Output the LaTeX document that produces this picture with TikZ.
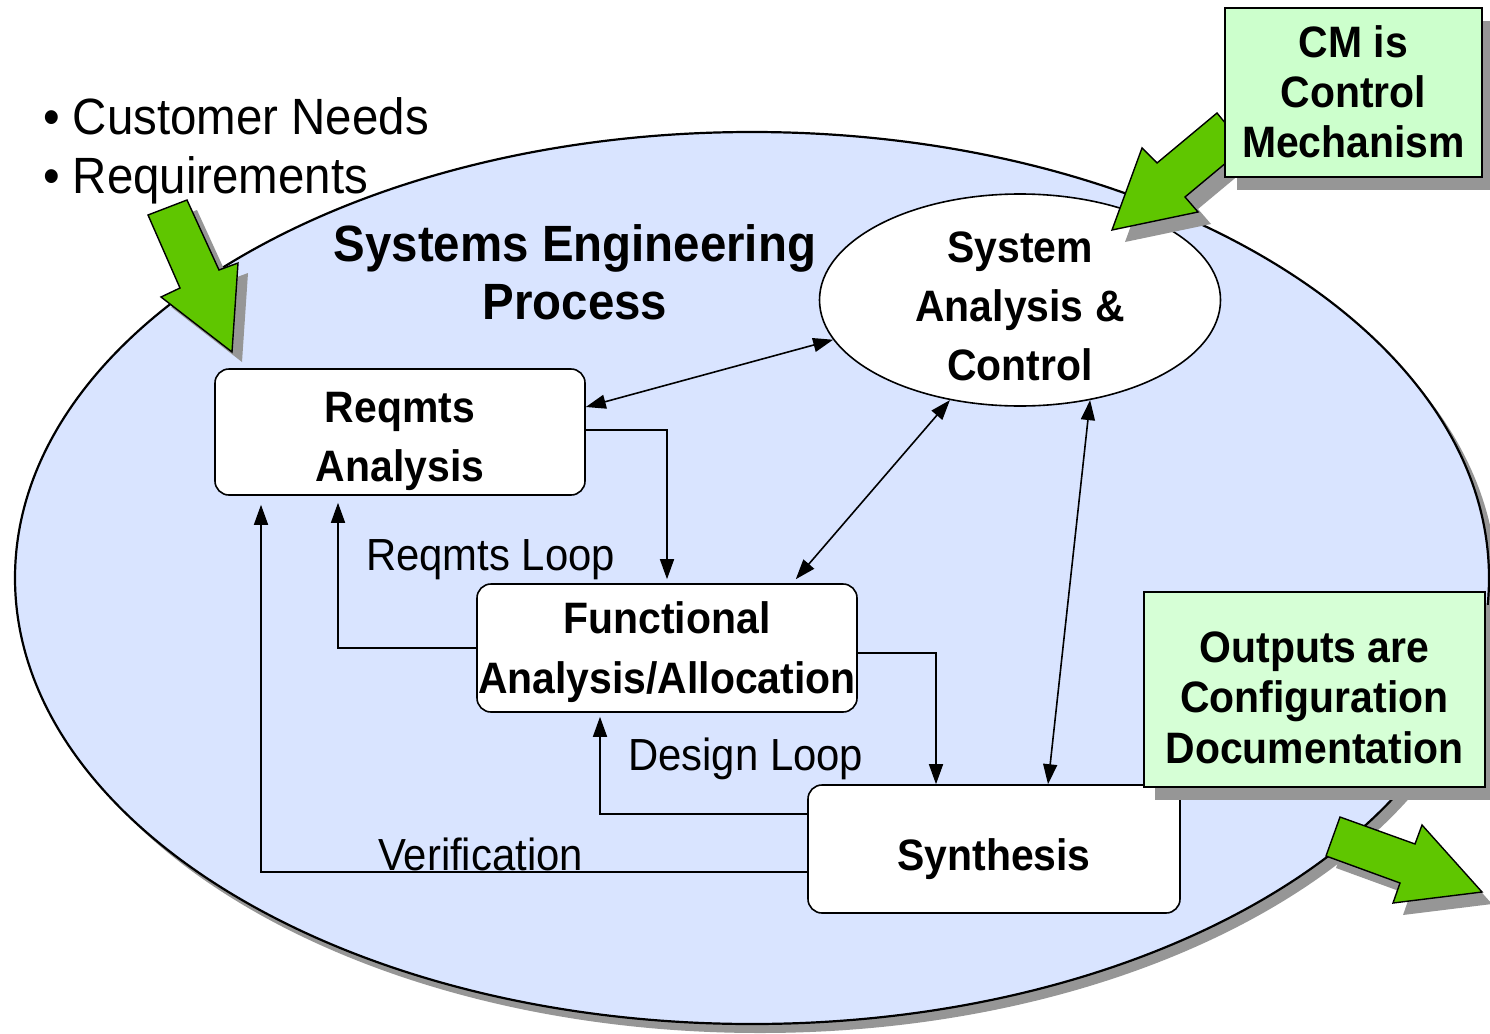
\documentclass[tikz,border=0pt]{standalone}
\usepackage{fontspec}
\newfontfamily\nar[FakeStretch=0.93]{Liberation Sans}
\usetikzlibrary{shapes.geometric,arrows.meta}
\definecolor{bgblue}{HTML}{D9E4FF}
\definecolor{boxgreen}{HTML}{CCFFCC}
\definecolor{boxgreenb}{HTML}{D6FFD6}
\definecolor{arrgreen}{HTML}{5FC600}
\definecolor{shadowgray}{HTML}{969696}
\newcommand{\topstrut}[1]{\rule{0pt}{#1}}
\newcommand{\botstrut}[1]{\rule[-#1]{0pt}{#1}}
\begin{document}
\begin{tikzpicture}[x=1pt,y=-1pt,
 box/.style={draw, line width=1.6pt, fill=white, rounded corners=14pt, inner sep=0pt, align=center, font=\nar\bfseries\fontsize{44}{59}\selectfont},
 note/.style={draw, line width=1.6pt, inner sep=0pt, align=center, font=\nar\bfseries\fontsize{44}{50}\selectfont},
 lbl/.style={inner sep=0pt, font=\nar\fontsize{45}{54}\selectfont},
 arr/.style={line width=1.6pt, -{Triangle[length=20pt,width=14pt]}},
 dbl/.style={line width=1.6pt, {Triangle[length=20pt,width=14pt]}-{Triangle[length=20pt,width=14pt]}},
 blockarrow/.style={fill=arrgreen, draw=black, line width=1.4pt, line join=miter},
 shade/.style={fill=shadowgray}]

\useasboundingbox (0,0) rectangle (1490,1033);
\fill[white] (0,0) rectangle (1490,1033);

% big process ellipse
\fill[shade] (760,587) ellipse [x radius=737pt, y radius=446pt];
\draw[fill=bgblue, line width=2.2pt] (752,578) ellipse [x radius=737pt, y radius=446pt];

% customer input arrow
\fill[shade, shift={(10,10)}] (148,215) -- (187,200) -- (219,270) -- (238,263) -- (232,352) -- (161,297) -- (180,288) -- cycle;
\draw[blockarrow] (148,215) -- (187,200) -- (219,270) -- (238,263) -- (232,352) -- (161,297) -- (180,288) -- cycle;

% texts
\node[lbl, font=\nar\fontsize{51}{59}\selectfont, anchor=west, align=left] (cust) at (43,151) {\textbullet\ Customer Needs\\\textbullet\ Requirements};
\node[inner sep=0pt, align=center, font=\nar\bfseries\fontsize{51}{58}\selectfont] (title) at (575,272) {Systems Engineering\\Process};

% system analysis & control
\node[ellipse, draw, fill=white, line width=1.6pt, minimum width=401pt, minimum height=212pt, inner xsep=0pt, inner ysep=-20pt, align=center, font=\nar\bfseries\fontsize{44}{59}\selectfont] (sys) at (1020,300) {\topstrut{52pt}System\\Analysis \&\\Control\botstrut{10pt}};

% CM arrow and box
\fill[shade, shift={(13,12)}] (1112,230) -- (1142,148) -- (1157,163) -- (1217,113) -- (1245,147) -- (1185,197) -- (1198,212) -- cycle;
\draw[blockarrow] (1112,230) -- (1142,148) -- (1157,163) -- (1217,113) -- (1245,147) -- (1185,197) -- (1198,212) -- cycle;
\fill[shade] (1237,21) rectangle (1494,190);
\node[note, fill=boxgreen, minimum width=257pt, minimum height=169pt] (cm) at (1353.5,92.5) {\topstrut{39pt}CM is\\Control\\Mechanism\botstrut{10pt}};

% process boxes
\node[box, minimum width=370pt, minimum height=126pt] (req) at (400,432) {\topstrut{50pt}Reqmts\\Analysis\botstrut{9pt}};
\node[box, minimum width=380pt, minimum height=128pt, font=\nar\bfseries\fontsize{44}{60}\selectfont] (fun) at (667,648) {\topstrut{40pt}Functional\\Analysis/Allocation\botstrut{10pt}};
\node[box, minimum width=372pt, minimum height=128pt, text height=42pt, text depth=0pt] (syn) at (994,849) {Synthesis};

% connectors
\draw[dbl] ([yshift=25pt]req.east) -- (sys.192);
\draw[arr] ([yshift=2pt]req.east) -| ([yshift=4pt]fun.north);
\draw[dbl] ([xshift=-62pt,yshift=4pt]fun.north east) -- (sys.235);
\draw[dbl] (sys.-55) -- ([xshift=54pt]syn.north);
\draw[arr] ([yshift=-5pt]fun.east) -| ([xshift=-58pt]syn.north);
\draw[arr] (fun.west) -| ([xshift=-62pt,yshift=-7pt]req.south);
\draw[arr] ([yshift=35pt]syn.west) -| ([xshift=-67pt,yshift=-4pt]fun.south);
\draw[arr] ([yshift=-23pt]syn.west) -| ([xshift=-139pt,yshift=-9pt]req.south);

% loop labels
\node[lbl, anchor=base west] (rl) at (366,570) {Reqmts Loop};
\node[lbl, anchor=base west] (dl) at (628,770) {Design Loop};
\node[lbl, anchor=base west] (vl) at (378,870) {Verification};

% outputs box and arrow
\fill[shade] (1155,605) rectangle (1496,800);
\node[note, fill=boxgreenb, minimum width=341pt, minimum height=195pt, font=\nar\bfseries\fontsize{44}{50.5}\selectfont] (out) at (1314.5,689.5) {\topstrut{50pt}Outputs are\\Configuration\\Documentation\botstrut{4pt}};
\fill[shade, shift={(10,12)}] (1340,817) -- (1415,844) -- (1422,825) -- (1482,892) -- (1393,903) -- (1400,883) -- (1326,856) -- cycle;
\draw[blockarrow] (1340,817) -- (1415,844) -- (1422,825) -- (1482,892) -- (1393,903) -- (1400,883) -- (1326,856) -- cycle;
\end{tikzpicture}
\end{document}
